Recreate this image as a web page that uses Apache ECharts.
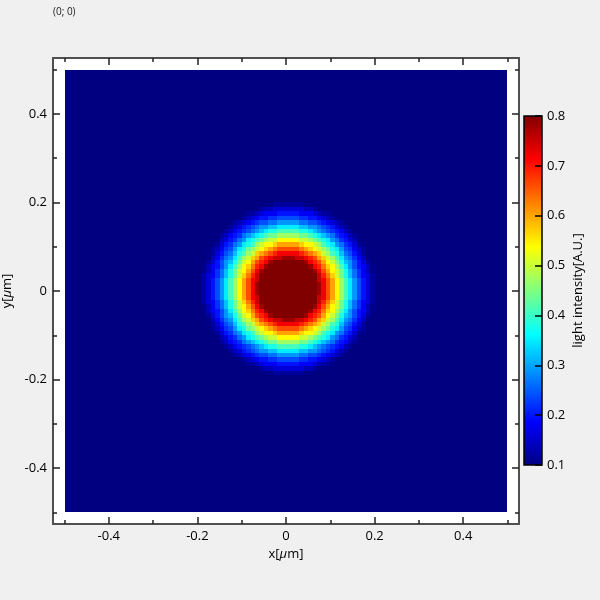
<!DOCTYPE html>
<html><head><meta charset="utf-8">
<script src="https://cdn.jsdelivr.net/npm/echarts@6/dist/echarts.min.js"></script>
<style>html,body{margin:0;padding:0;background:#f0f0f0}#c{width:600px;height:600px}</style>
</head><body><div id="c"></div>
<script>
// ---- data ----
const cellSize = 0.01;                 // image pixel size [µm]
const imgNX = 100, imgNY = 100;        // image size [pixels]
const imgX0 = -0.5, imgY0 = -0.5;      // lower-left corner of image [µm]
// radial intensity profile (radius step = profileStep)
const profileStep = 0.005;
const profileIntensity = [1.00, 1.00, 0.99, 0.99, 0.98, 0.97, 0.96, 0.94, 0.92, 0.90,
                          0.88, 0.86, 0.83, 0.81, 0.78, 0.75, 0.72, 0.69, 0.66, 0.63,
                          0.60, 0.57, 0.54, 0.50, 0.47, 0.44, 0.41, 0.38, 0.35, 0.32,
                          0.29, 0.265, 0.24, 0.22, 0.20, 0.18, 0.16, 0.14, 0.12, 0.105,
                          0.09, 0.08, 0.065, 0.055, 0.045, 0.035, 0.03, 0.02, 0.015, 0.01, 0.01];
const colorMin = 0.1, colorMax = 0.8;
const jetColors = ['#000080','#0000ff','#0080ff','#00ffff','#80ff80','#ffff00','#ff8000','#ff0000','#800000'];
const majorTicks = [-0.4, -0.2, 0, 0.2, 0.4];
const minorTicks = [-0.5, -0.3, -0.1, 0.1, 0.3, 0.5];
const axisRange = [-0.526, 0.526];
const cornerText = '(0; 0)';

// ---- build cells ----
const cells = [];
for (let iy = 0; iy < imgNY; iy++) {
  for (let ix = 0; ix < imgNX; ix++) {
    const x = imgX0 + ix * cellSize, y = imgY0 + iy * cellSize;
    const k = Math.round(Math.hypot(x, y) / profileStep);
    let v = k < profileIntensity.length ? profileIntensity[k] : profileIntensity[profileIntensity.length - 1];
    v = Math.min(colorMax, Math.max(colorMin, v));
    cells.push([x, y, v]);
  }
}

const chart = echarts.init(document.getElementById('c'));
const FONT = 'Open Sans';
const tickStyle = {color: '#222', width: 1.5};
function mkAxis(pos, ticks, len, labels, extra) {
  return Object.assign({
    type: 'value', gridIndex: 0, position: pos, min: axisRange[0], max: axisRange[1], z: 10,
    axisLine: {show: false, onZero: false}, splitLine: {show: false},
    axisTick: {show: true, inside: true, length: len, lineStyle: tickStyle, customValues: ticks},
    axisLabel: labels ? {show: true, customValues: ticks, fontFamily: FONT, fontSize: 13, color: '#000', margin: 6,
      formatter: v => String(Math.round(v * 10) / 10)} : {show: false}
  }, extra || {});
}
const nameStyle = {fontFamily: FONT, fontSize: 13, color: '#000', rich: {i: {fontStyle: 'italic', fontFamily: FONT, fontSize: 13, color: '#000'}}};

const option = {
  backgroundColor: '#f0f0f0',
  animation: false,
  grid: [
    {left: 53, top: 58, width: 466, height: 466, show: true, backgroundColor: '#fff', borderColor: '#505050', borderWidth: 2, outerBoundsMode: 'none'},
    {left: 524, top: 116, width: 18, height: 349, show: false, outerBoundsMode: 'none'}
  ],
  xAxis: [
    mkAxis('bottom', majorTicks, 7, true, {name: 'x[{i|µ}m]', nameLocation: 'middle', nameGap: 20, nameTextStyle: nameStyle}),
    mkAxis('bottom', minorTicks, 4, false),
    mkAxis('top', majorTicks, 7, false),
    mkAxis('top', minorTicks, 4, false),
    {type: 'value', gridIndex: 1, min: 0, max: 1, show: false, axisLine: {onZero: false}}
  ],
  yAxis: [
    mkAxis('left', majorTicks, 7, true, {name: 'y[{i|µ}m]', nameLocation: 'middle', nameGap: 34, nameTextStyle: nameStyle}),
    mkAxis('left', minorTicks, 4, false),
    mkAxis('right', majorTicks, 7, false),
    mkAxis('right', minorTicks, 4, false),
    {type: 'value', gridIndex: 1, position: 'right', min: colorMin, max: colorMax, interval: 0.1, z: 10,
      axisLine: {show: false, onZero: false}, splitLine: {show: false},
      axisTick: {show: true, inside: true, length: 7, lineStyle: {color: '#000', width: 1.5}},
      axisLabel: {fontFamily: FONT, fontSize: 13, color: '#000', margin: 5, formatter: v => String(Math.round(v * 10) / 10)},
      name: 'light intensity[A.U.]', nameLocation: 'middle', nameRotate: 90, nameGap: 30,
      nameTextStyle: {fontFamily: FONT, fontSize: 13, color: '#000'}}
  ],
  visualMap: {
    show: false, type: 'continuous', seriesIndex: 0, dimension: 2,
    min: colorMin, max: colorMax, inRange: {color: jetColors}
  },
  graphic: [{type: 'text', left: 53, top: 7, style: {text: cornerText, fontFamily: FONT, fontSize: 10, fill: '#222'}}],
  series: [
    {
      type: 'custom', xAxisIndex: 0, yAxisIndex: 0, data: cells, z: 2,
      encode: {x: 0, y: 1},
      renderItem: function (params, api) {
        const x = api.value(0), y = api.value(1);
        const p0 = api.coord([x, y + cellSize]);
        const p1 = api.coord([x + cellSize, y]);
        const l = Math.round(p0[0]), t = Math.round(p0[1]);
        return {type: 'rect', shape: {x: l, y: t, width: Math.round(p1[0]) - l, height: Math.round(p1[1]) - t},
          style: {fill: api.visual('color')}};
      }
    },
    {
      type: 'custom', xAxisIndex: 4, yAxisIndex: 4, data: [[0, colorMax]], z: 2,
      renderItem: function (params, api) {
        const p0 = api.coord([0, colorMax]);
        const p1 = api.coord([1, colorMin]);
        const stops = jetColors.map((c, i) => ({offset: i / (jetColors.length - 1), color: c}));
        return {type: 'rect', shape: {x: p0[0], y: p0[1], width: p1[0] - p0[0], height: p1[1] - p0[1]},
          style: {fill: new echarts.graphic.LinearGradient(0, 1, 0, 0, stops), stroke: '#000', lineWidth: 1.5}};
      }
    }
  ]
};
chart.setOption(option);
</script></body></html>
